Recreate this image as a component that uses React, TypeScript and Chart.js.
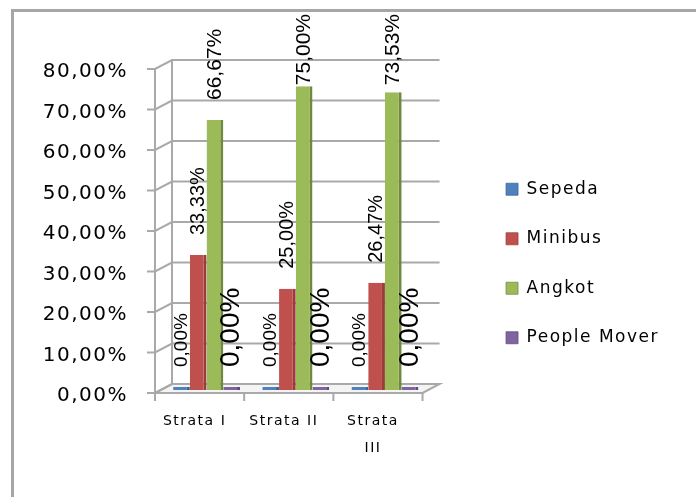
import { useEffect, useRef } from "react";
import { Chart, registerables } from "chart.js";

Chart.register(...registerables);

const categories = ["Strata I", "Strata II", "Strata III"];
const seriesNames = ["Sepeda", "Minibus", "Angkot", "People Mover"];
const sepeda = [0, 0, 0];
const minibus = [0.3333, 0.25, 0.2647];
const angkot = [0.6667, 0.75, 0.7353];
const peopleMover = [0, 0, 0];
const yTicks = [0, 0.1, 0.2, 0.3, 0.4, 0.5, 0.6, 0.7, 0.8];
const seriesColors = ["#4f81bd", "#c0504d", "#9bbb59", "#8064a2"];
const sideColors = ["#3b6494", "#993c3a", "#6f8a3c", "#5f4a7c"];
const labelSizes = [19, 20, 21, 28];

const fmt = (v: number) => (v * 100).toFixed(2).replace(".", ",") + "%";

// 3D frame offsets (front and back planes relative to chart area)
const FX = -7;
const FY = 3;
const BX = 10;
const BY = -6;
const SPACING = "1.5px";

const spacing = {
  id: "spacing",
  beforeLayout(chart: any) {
    chart.ctx.letterSpacing = SPACING;
  },
  afterLayout(chart: any) {
    chart.ctx.letterSpacing = "0px";
  },
  beforeDraw(chart: any) {
    chart.ctx.letterSpacing = SPACING;
  },
};

const frame3d = {
  id: "frame3d",
  beforeDatasetsDraw(chart: any) {
    const { ctx, chartArea } = chart;
    ctx.letterSpacing = "0px";
    const { left, right } = chartArea;
    const y = chart.scales.y;
    const y0 = y.getPixelForValue(0);
    const yTop = y.getPixelForValue(yTicks[yTicks.length - 1]);
    ctx.save();
    ctx.strokeStyle = "#a9a9a9";
    ctx.lineWidth = 2;
    // floor
    ctx.fillStyle = "#f4f4f4";
    ctx.beginPath();
    ctx.moveTo(left + FX, y0 + FY);
    ctx.lineTo(right + FX, y0 + FY);
    ctx.lineTo(right + BX, y0 + BY);
    ctx.lineTo(left + BX, y0 + BY);
    ctx.closePath();
    ctx.fill();
    ctx.stroke();
    // back wall vertical
    ctx.beginPath();
    ctx.moveTo(left + BX, y0 + BY);
    ctx.lineTo(left + BX, yTop + BY);
    ctx.stroke();
    // front axis vertical
    ctx.beginPath();
    ctx.moveTo(left + FX, y0 + FY);
    ctx.lineTo(left + FX, yTop + FY);
    ctx.stroke();
    yTicks.forEach((v) => {
      const p = y.getPixelForValue(v);
      ctx.beginPath();
      ctx.moveTo(left + FX - 8, p + FY);
      ctx.lineTo(left + FX, p + FY);
      ctx.lineTo(left + BX, p + BY);
      ctx.lineTo(right + BX, p + BY);
      ctx.stroke();
    });
    // category tick marks on the floor front edge
    const n = categories.length;
    const w = (right - left) / n;
    for (let i = 0; i <= n; i++) {
      const x = left + FX + i * w;
      ctx.beginPath();
      ctx.moveTo(x, y0 + FY);
      ctx.lineTo(x, y0 + FY + 8);
      ctx.stroke();
    }
    ctx.restore();
  },
};

const valueLabels = {
  id: "valueLabels",
  afterDatasetsDraw(chart: any) {
    const { ctx } = chart;
    ctx.save();
    ctx.fillStyle = "#000";
    ctx.textAlign = "left";
    ctx.textBaseline = "middle";
    chart.data.datasets.forEach((ds: any, di: number) => {
      const meta = chart.getDatasetMeta(di);
      ctx.font = `${labelSizes[di]}px "Liberation Sans", Arial, sans-serif`;
      meta.data.forEach((el: any, i: number) => {
        const text = fmt(ds.data[i]);
        const len = ctx.measureText(text).width;
        const top = Math.min(el.y, el.base);
        const bottom = Math.max(top - 20, 2 + len);
        ctx.save();
        ctx.translate(el.x, bottom);
        ctx.rotate(-Math.PI / 2);
        ctx.fillText(text, 0, 0);
        ctx.restore();
      });
    });
    ctx.restore();
  },
};

export default function App() {
  const ref = useRef<HTMLCanvasElement | null>(null);
  useEffect(() => {
    if (!ref.current) return;
    const seriesData = [sepeda, minibus, angkot, peopleMover];
    const chart = new Chart(ref.current, {
      type: "bar",
      data: {
        labels: categories,
        datasets: seriesNames.map((name, i) => ({
          label: name,
          data: seriesData[i],
          backgroundColor: seriesColors[i],
          borderColor: sideColors[i],
          borderWidth: { top: 0, left: 0, bottom: 0, right: 3 },
          borderSkipped: false,
          minBarLength: 3,
          categoryPercentage: 0.75,
          barPercentage: 1,
        })),
      },
      options: {
        animation: false,
        responsive: false,
        maintainAspectRatio: false,
        devicePixelRatio: 1,
        layout: { padding: { top: 18, right: 27, bottom: 0, left: 0 } },
        plugins: {
          legend: {
            position: "right",
            maxWidth: 400,
            labels: {
              boxWidth: 12,
              boxHeight: 12,
              padding: 32.5,
              color: "#000",
              font: { family: "DejaVu Sans", size: 17 },
            },
          },
          tooltip: { enabled: false },
        },
        scales: {
          x: {
            grid: { display: false, drawTicks: false },
            border: { display: false },
            ticks: {
              padding: 18,
              labelOffset: -12,
              maxRotation: 0,
              autoSkip: false,
              color: "#000",
              font: { family: "DejaVu Sans", size: 14, lineHeight: 1.9 },
              callback: (_v: any, i: number) => {
                const l = categories[i];
                return l.length > 9 ? l.split(" ") : l;
              },
            },
            afterFit: (s: any) => {
              s.height = 107;
            },
          },
          gapTop: {
            type: "linear",
            position: "top",
            display: true,
            grid: { display: false, drawTicks: false },
            border: { display: false },
            ticks: { display: false },
            afterFit: (s: any) => {
              s.height = 36;
            },
          },
          gapRight: {
            type: "linear",
            position: "right",
            display: true,
            grid: { display: false, drawTicks: false },
            border: { display: false },
            ticks: { display: false },
            afterFit: (s: any) => {
              s.width = 44;
            },
          },
          y: {
            min: 0,
            max: 0.8,
            afterBuildTicks: (s: any) => {
              s.ticks = yTicks.map((v) => ({ value: v }));
            },
            grid: { display: false, drawTicks: false },
            border: { display: false },
            ticks: {
              padding: 34,
              labelOffset: 6,
              color: "#000",
              font: { family: "DejaVu Sans", size: 20 },
              callback: (v: any) => fmt(Number(v)),
            },
            afterFit: (s: any) => {
              s.width = 148;
            },
          },
        },
      } as any,
      plugins: [spacing, frame3d, valueLabels],
    });
    return () => chart.destroy();
  }, []);
  return (
    <div
      style={{
        position: "absolute",
        left: 11,
        top: 9,
        width: 685,
        height: 488,
        borderTop: "3px solid #a6a6a6",
        borderLeft: "3px solid #a6a6a6",
        background: "#fff",
      }}
    >
      <canvas ref={ref} width={682} height={485} style={{ display: "block" }} />
    </div>
  );
}
